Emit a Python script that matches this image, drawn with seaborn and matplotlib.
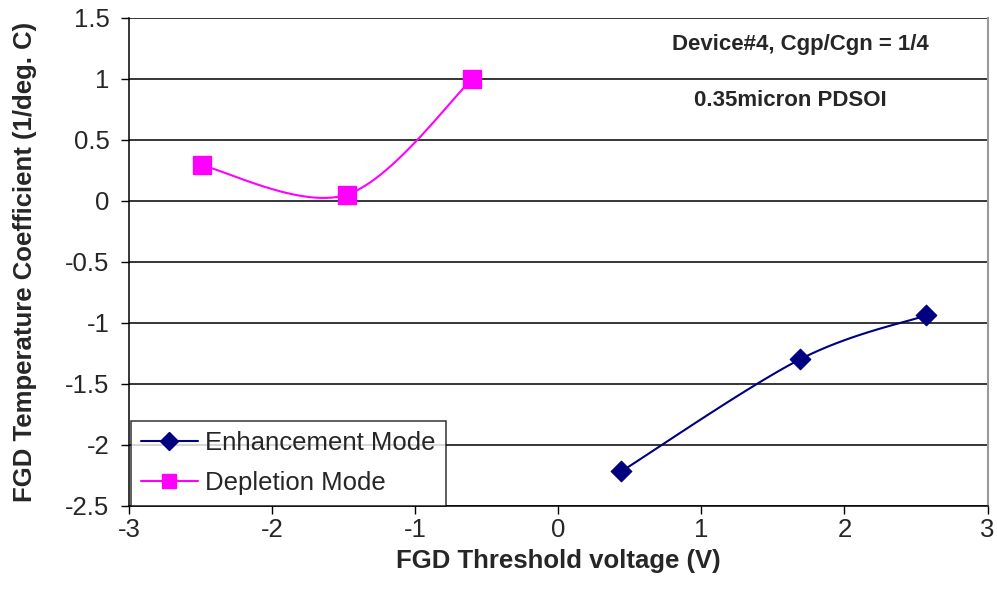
import numpy as np
import pandas as pd
import matplotlib
matplotlib.use("Agg")
import matplotlib.pyplot as plt
import seaborn as sns
from matplotlib.lines import Line2D

# ---- data ----
enh_x = [0.44, 1.69, 2.57]
enh_y = [-2.22, -1.30, -0.94]
dep_x = [-2.49, -1.48, -0.60]
dep_y = [0.29, 0.05, 1.00]
series_names = ["Enhancement Mode", "Depletion Mode"]
y_ticks = [1.5, 1, 0.5, 0, -0.5, -1, -1.5, -2, -2.5]
x_ticks = [-3, -2, -1, 0, 1, 2, 3]


def smooth(xs, ys, n=30):
    """Excel-style smoothed line (Catmull-Rom Bezier) through the data points."""
    P = np.column_stack([xs, ys]).astype(float)
    ext = np.vstack([P[0], P, P[-1]])
    out = []
    for i in range(len(P) - 1):
        p0, p1, p2, p3 = ext[i], ext[i + 1], ext[i + 2], ext[i + 3]
        c1 = p1 + (p2 - p0) / 6.0
        c2 = p2 - (p3 - p1) / 6.0
        t = np.linspace(0, 1, n)[:, None]
        seg = ((1 - t) ** 3) * p1 + 3 * ((1 - t) ** 2) * t * c1 + 3 * (1 - t) * t ** 2 * c2 + t ** 3 * p2
        out.append(seg if i == 0 else seg[1:])
    s = np.vstack(out)
    return s[:, 0], s[:, 1]


sns.set_style("white")
plt.rcParams["font.family"] = ["Liberation Sans", "DejaVu Sans"]

fig = plt.figure(figsize=(9.97, 6.06), dpi=100)
ax = fig.add_axes([0.1294, 0.1657, 0.8611, 0.8046])

navy = "#000080"
magenta = "#FF00FF"

ex, ey = smooth(enh_x, enh_y)
dx, dy = smooth(dep_x, dep_y)
sns.lineplot(x=ex, y=ey, sort=False, ax=ax, color=navy, lw=1.5, estimator=None)
sns.lineplot(x=dx, y=dy, sort=False, ax=ax, color=magenta, lw=1.5, estimator=None)
sns.scatterplot(x=enh_x, y=enh_y, ax=ax, marker="D", s=110, color=navy, edgecolor=navy, zorder=5)
sns.scatterplot(x=dep_x, y=dep_y, ax=ax, marker="s", s=150, color=magenta, edgecolor=magenta, zorder=5)

ax.set_xlim(-3, 3)
ax.set_ylim(-2.5, 1.5)
ax.set_xticks(x_ticks)
ax.set_xticklabels([str(v) for v in x_ticks])
ax.set_yticks(y_ticks)
ax.set_yticklabels([("%g" % v) for v in y_ticks])
for v in y_ticks:
    ax.axhline(v, color="black", lw=1.1, zorder=1)

ax.tick_params(axis="both", direction="out", length=6, width=1, color="black",
               labelsize=18.5, bottom=True, left=True)
ax.tick_params(axis="x", pad=3)
ax.tick_params(axis="y", pad=8)
for side in ["left", "bottom"]:
    ax.spines[side].set_color("black")
    ax.spines[side].set_linewidth(1.1)
ax.spines["right"].set_color("#999999")
ax.spines["right"].set_linewidth(1.5)
ax.spines["top"].set_visible(False)

ax.set_xlabel("FGD Threshold voltage (V)", fontsize=18.5, fontweight="bold", labelpad=5)
ax.set_ylabel("FGD Temperature Coefficient (1/deg. C)", fontsize=18.5, fontweight="bold", labelpad=20)

ax.text(0.782, 0.945, "Device#4, Cgp/Cgn = 1/4", transform=ax.transAxes, ha="center", va="center",
        fontsize=16, fontweight="bold")
ax.text(0.770, 0.83, "0.35micron PDSOI", transform=ax.transAxes, ha="center", va="center",
        fontsize=16, fontweight="bold")

handles = [
    Line2D([], [], color=navy, lw=1.5, marker="D", markersize=9, markerfacecolor=navy),
    Line2D([], [], color=magenta, lw=1.5, marker="s", markersize=10, markerfacecolor=magenta),
]
leg = ax.legend(handles, series_names, loc="lower left", bbox_to_anchor=(0.002, 0.0),
                borderaxespad=0, fontsize=18.5, frameon=True, fancybox=False,
                edgecolor="black", handlelength=2.2, handletextpad=0.3, labelspacing=0.62,
                borderpad=0.4)
leg.get_frame().set_linewidth(1.1)

fig.savefig("out.png", dpi=100)
